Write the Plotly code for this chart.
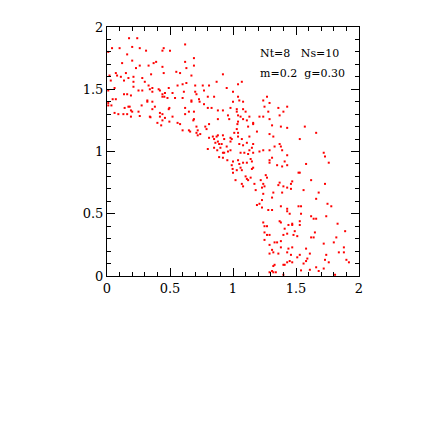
"""
Scatter plot: Nt=8 Ns=10, m=0.2 g=0.30
"""
import plotly.graph_objects as go

# pontos (x, y)
pontos_topo = [
    (0.175, 1.91), (0.24, 1.91), (0.62, 1.86), (0.04, 1.83), (0.10, 1.83), (0.20, 1.84),
    (0.26, 1.83), (0.01, 1.80), (0.31, 1.81), (0.44, 1.81), (0.45, 1.83), (0.50, 1.81),
    (0.16, 1.78), (0.62, 1.72), (0.69, 1.75), (0.20, 1.73), (0.12, 1.71), (0.37, 1.71),
    (0.39, 1.72), (0.26, 1.69), (0.23, 1.67), (0.33, 1.69), (0.44, 1.68), (0.63, 1.67),
    (0.69, 1.69), (0.45, 1.63), (0.55, 1.64), (0.58, 1.63), (0.67, 1.61), (0.07, 1.63),
    (0.08, 1.61), (0.02, 1.61), (0.11, 1.60), (0.15, 1.63), (0.17, 1.59), (0.21, 1.60),
    (0.28, 1.59), (0.35, 1.62), (0.135, 1.57), (0.30, 1.56), (0.03, 1.57), (0.21, 1.56),
    (0.92, 1.62), (0.87, 1.56), (1.04, 1.54), (0.21, 1.52), (0.33, 1.53), (0.36, 1.51),
    (0.41, 1.50), (0.49, 1.51), (0.56, 1.53), (0.60, 1.54), (0.63, 1.55), (0.70, 1.53),
    (0.76, 1.53), (0.81, 1.53), (0.95, 1.51), (0.06, 1.51), (0.01, 1.49), (0.25, 1.49),
    (0.28, 1.49), (0.34, 1.50), (0.36, 1.48), (0.42, 1.49), (0.44, 1.46), (0.46, 1.47),
    (0.52, 1.47), (0.61, 1.48), (0.70, 1.48), (0.71, 1.46), (0.77, 1.49), (0.80, 1.44),
    (0.85, 1.44), (1.00, 1.48), (1.04, 1.44), (0.16, 1.46), (0.135, 1.46), (0.19, 1.45),
    (0.07, 1.42), (0.045, 1.42), (0.32, 1.41), (0.32, 1.40), (0.36, 1.40), (0.44, 1.44),
    (0.455, 1.44), (0.48, 1.43), (0.54, 1.43), (0.60, 1.43), (0.67, 1.41), (0.73, 1.42),
    (0.735, 1.40), (0.67, 1.40), (0.77, 1.38), (0.80, 1.35), (0.83, 1.35), (0.88, 1.33),
    (0.92, 1.33), (0.98, 1.35), (1.03, 1.34), (1.00, 1.40), (1.05, 1.41), (0.01, 1.39),
    (0.01, 1.37), (0.035, 1.37), (0.275, 1.37), (0.38, 1.36), (0.14, 1.35), (0.17, 1.36),
    (0.18, 1.36), (0.36, 1.34), (0.495, 1.35), (0.49, 1.34), (0.62, 1.35), (0.65, 1.32),
    (0.69, 1.32), (0.42, 1.31), (0.20, 1.32), (0.19, 1.33), (0.25, 1.32), (0.06, 1.31),
    (0.09, 1.30), (0.13, 1.30), (0.16, 1.30), (0.44, 1.30), (0.42, 1.28), (0.34, 1.28),
    (0.345, 1.275), (0.19, 1.28), (0.26, 1.285), (0.46, 1.27), (0.52, 1.28), (0.62, 1.30),
    (0.685, 1.25), (0.69, 1.26), (0.495, 1.24), (0.56, 1.23), (0.58, 1.22), (0.40, 1.23),
    (0.44, 1.25), (0.43, 1.21), (0.60, 1.17), (0.65, 1.17), (0.66, 1.16), (0.71, 1.20),
    (0.72, 1.17), (0.72, 1.13), (0.71, 1.15), (0.74, 1.14), (0.78, 1.20), (0.79, 1.18),
    (0.81, 1.22), (0.81, 1.11), (0.84, 1.12), (0.85, 1.10), (0.86, 1.07), (0.88, 1.13),
    (0.88, 1.08), (0.89, 1.06), (0.91, 1.06), (0.90, 1.03), (0.93, 1.10), (0.92, 0.99),
    (0.93, 0.99), (0.95, 1.04), (0.96, 1.00), (0.98, 1.11), (0.98, 1.01), (0.98, 1.08),
    (0.99, 1.10), (1.01, 1.15), (1.03, 1.18), (1.04, 1.15), (1.04, 1.12), (1.035, 1.22),
    (1.04, 1.29), (0.96, 1.29), (0.88, 1.26), (0.87, 1.12), (0.92, 1.13),
]

pontos_meio = [
    (1.07, 1.56), (1.03, 1.32), (0.97, 1.26), (1.04, 1.24),
    (1.08, 1.40), (1.08, 1.34), (1.10, 1.32), (1.06, 1.28),
    (1.13, 1.28), (1.11, 1.25), (1.08, 1.26), (1.12, 1.20), (1.16, 1.23), (1.16, 1.22),
    (1.21, 1.28), (1.19, 1.16), (1.13, 1.12), (1.07, 1.10), (1.05, 1.06), (1.08, 1.05),
    (1.11, 1.07), (1.15, 1.03), (1.16, 1.06), (1.24, 1.41),
    (1.27, 1.44), (1.29, 1.39), (1.25, 1.36), (1.28, 1.32), (1.24, 1.28), (1.29, 1.26),
    (1.31, 1.21), (1.29, 1.14), (1.32, 1.12), (1.36, 1.35), (1.40, 1.32), (1.43, 1.36),
    (1.37, 1.29), (1.38, 1.20), (1.43, 1.19), (1.37, 1.06),
    (1.39, 1.01), (1.53, 1.10), (1.57, 1.20), (1.66, 1.15), (1.43, 0.97),
    (0.80, 1.02), (0.85, 1.03), (0.875, 1.01),
    (0.89, 0.955), (0.92, 0.95), (0.955, 0.93), (0.99, 0.89),
    (0.997, 0.86), (1.00, 0.83), (1.02, 0.77),
]

pontos_baixo = [
    (1.00, 0.92), (1.03, 0.85), (1.06, 0.99), (1.09, 0.99), (1.13, 1.01), (1.12, 0.98),
    (1.16, 0.99), (1.21, 1.00), (1.24, 1.01), (1.29, 1.01), (1.33, 1.04), (1.38, 1.04),
    (1.04, 0.93), (1.05, 0.90), (1.08, 0.91), (1.11, 0.91), (1.14, 0.94), (1.15, 0.92),
    (1.06, 0.87), (1.07, 0.85), (1.15, 0.86), (1.16, 0.87), (1.10, 0.80), (1.11, 0.78),
    (1.12, 0.77), (1.07, 0.74), (1.08, 0.72), (1.14, 0.79), (1.17, 0.74), (1.18, 0.69),
    (1.22, 0.77), (1.24, 0.74), (1.23, 0.71), (1.25, 0.72), (1.26, 0.81), (1.27, 0.79),
    (1.29, 0.93), (1.31, 0.95), (1.29, 0.91), (1.35, 0.89), (1.41, 0.92), (1.43, 0.89),
    (1.39, 0.88), (1.37, 0.75), (1.36, 0.73), (1.40, 0.72), (1.46, 0.74), (1.47, 0.76),
    (1.46, 0.70), (1.43, 0.71), (1.39, 0.67), (1.32, 0.67), (1.24, 0.66), (1.31, 0.63),
    (1.23, 0.61), (1.19, 0.57), (1.21, 0.58), (1.23, 0.55), (1.28, 0.53), (1.31, 0.53),
    (1.38, 0.56), (1.43, 0.54), (1.43, 0.52), (1.45, 0.50), (1.47, 0.42), (1.47, 0.41),
    (1.44, 0.41), (1.41, 0.38), (1.49, 0.36), (1.53, 0.44), (1.53, 0.41), (1.52, 0.83),
    (1.53, 0.83), (1.58, 0.90), (1.62, 0.77), (1.66, 0.62), (1.68, 0.67), (1.73, 0.96),
    (1.72, 0.99), (1.76, 0.91), (1.73, 0.74), (1.75, 0.58), (1.78, 0.56), (1.52, 0.56),
    (1.54, 0.56), (1.56, 0.69), (1.54, 0.50), (1.62, 0.48), (1.64, 0.46), (1.66, 0.46),
    (1.74, 0.48), (1.83, 0.42), (1.65, 0.35), (1.64, 0.31), (1.62, 0.31), (1.72, 0.26),
    (1.82, 0.31), (1.89, 0.36), (1.88, 0.23), (1.88, 0.19), (1.90, 0.13), (1.92, 0.11),
    (1.80, 0.27), (1.84, 0.19), (1.74, 0.17), (1.73, 0.13), (1.76, 0.11), (1.72, 0.06),
    (1.66, 0.07), (1.68, 0.04), (1.61, 0.05), (1.58, 0.22), (1.59, 0.14), (1.61, 0.18),
    (1.58, 0.12), (1.56, 0.10), (1.51, 0.15), (1.53, 0.17), (1.44, 0.22), (1.43, 0.19),
    (1.46, 0.17), (1.47, 0.23), (1.47, 0.11), (1.43, 0.11), (1.45, 0.12), (1.41, 0.09),
    (1.40, 0.09), (1.36, 0.18), (1.38, 0.23), (1.35, 0.27), (1.38, 0.28), (1.33, 0.27),
    (1.32, 0.19), (1.29, 0.18), (1.29, 0.25), (1.31, 0.21), (1.27, 0.33), (1.25, 0.35),
    (1.29, 0.33), (1.25, 0.29), (1.33, 0.09), (1.32, 0.08), (1.31, 0.04), (1.32, 0.03),
    (1.34, 0.03), (1.29, 0.03), (1.40, 0.01), (1.54, 0.045), (1.81, 0.01), (1.24, 0.43),
    (1.25, 0.40), (1.27, 0.40), (1.37, 0.44), (1.38, 0.43), (1.43, 0.34), (1.40, 0.33),
    (1.48, 0.33), (1.51, 0.32),
]

rotulos_ticks = ["0", "0.5", "1", "1.5", "2"]
valores_ticks = [0, 0.5, 1, 1.5, 2]

todos = pontos_topo + pontos_meio + pontos_baixo
xs = [p[0] for p in todos]
ys = [p[1] for p in todos]

fig = go.Figure()
fig.add_trace(go.Scatter(
    x=xs, y=ys, mode='markers',
    marker=dict(symbol='square', size=2, color='red', line=dict(width=0)),
    showlegend=False, hoverinfo='skip'
))

eixo = dict(
    range=[0, 2], tickvals=valores_ticks, ticktext=rotulos_ticks,
    ticks='inside', ticklen=8, tickwidth=1, tickcolor='black',
    showline=True, linecolor='black', linewidth=1, mirror='ticks',
    showgrid=False, zeroline=False,
    tickfont=dict(family='DejaVu Serif', size=13, color='black'),
    minor=dict(ticks='inside', ticklen=4, dtick=0.1, tickcolor='black', showgrid=False),
)
fig.update_xaxes(**eixo)
fig.update_yaxes(**eixo)

# a página tem 8px de margem no body, por isso as margens já descontam esse deslocamento
fig.add_annotation(x=0.60, y=0.895, xref='paper', yref='paper', xanchor='left',
                   yanchor='middle', showarrow=False, text='Nt=8   Ns=10',
                   font=dict(family='DejaVu Serif', size=11, color='black'))
fig.add_annotation(x=0.60, y=0.815, xref='paper', yref='paper', xanchor='left',
                   yanchor='middle', showarrow=False, text='m=0.2  g=0.30',
                   font=dict(family='DejaVu Serif', size=11, color='black'))

fig.update_layout(
    width=436, height=436,
    margin=dict(l=99, r=85, t=16, b=168),
    plot_bgcolor='white', paper_bgcolor='white',
)

fig.write_html("out.html")
